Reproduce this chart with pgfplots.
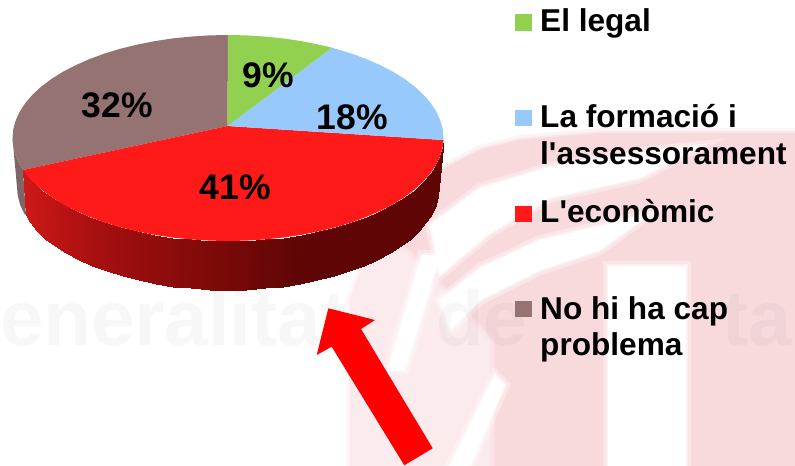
\documentclass[border=0pt]{standalone}
\usepackage{fontspec}
\setmainfont{Liberation Sans}
\newfontfamily\plainsans{Liberation Sans}
\usepackage{pgfplots}
\pgfplotsset{compat=1.18}
\definecolor{cgreen}{HTML}{92D050}
\definecolor{cblue}{HTML}{97C9FC}
\definecolor{cred}{HTML}{FF1A1A}
\definecolor{cbrown}{HTML}{957373}
\definecolor{csidebrown}{HTML}{7F6666}
\definecolor{cpink}{HTML}{F8DADD}
\definecolor{cpale}{HTML}{FBEBED}
\newcommand{\leg}{\plainsans\fontsize{31.6bp}{34bp}\selectfont\bfseries}
\newcommand{\pct}{\fontsize{35.5bp}{40bp}\selectfont\bfseries}
\tikzset{
  softwhite/.style={fill=white, draw=white, draw opacity=.45, line width=4pt,
    preaction={draw=white, draw opacity=.3, line width=10pt}},
  softpink/.style={fill=#1, draw=#1, draw opacity=.45, line width=4pt,
    preaction={draw=#1, draw opacity=.3, line width=10pt}},
}
\begin{document}
\begin{tikzpicture}
\begin{axis}[
  scale only axis, width=795bp, height=466bp,
  xmin=0, xmax=795, ymin=0, ymax=466, y dir=reverse,
  hide axis,
  colormap={sidered}{rgb255(0)=(205,24,24); rgb255(75)=(165,15,15); rgb255(175)=(130,10,10); rgb255(275)=(95,5,5)},
  point meta min=25, point meta max=300,
]
% page
\addplot[fill=white, draw=none] coordinates {(0,0)(795,0)(795,466)(0,466)} --cycle;
% faded logo behind the chart
\addplot[softpink=cpale] coordinates {(350,466)(350,300)(375,235)(410,190)(500,190)(500,466)} --cycle;
\addplot[softpink=cpink] coordinates {(445,168)(480,150)(520,140)(600,133)(795,133)(795,466)(495,466)(495,340)(440,280)(400,240)(410,195)} --cycle;
\addplot[softwhite] coordinates {(430,225)(480,188)(550,167)(640,152)(700,146)(640,178)(550,198)(490,233)(440,275)} --cycle;
\addplot[softwhite] coordinates {(440,300)(480,268)(540,240)(600,226)(650,214)(600,250)(540,270)(480,300)(450,330)} --cycle;
\addplot[softwhite] coordinates {(608,266)(686,266)(686,466)(608,466)} --cycle;
\addplot[softwhite] coordinates {(422,255)(440,255)(405,370)(388,370)} --cycle;
\addplot[softwhite] coordinates {(495,375)(505,385)(470,466)(450,466)} --cycle;
\node[anchor=base west, black, opacity=.03, inner sep=0pt, font=\bfseries\fontsize{78bp}{80bp}\selectfont] at (axis cs:0,345) {eneralitat};
\node[anchor=base west, black, opacity=.03, inner sep=0pt, font=\bfseries\fontsize{78bp}{80bp}\selectfont] at (axis cs:436,345) {de};
\node[anchor=base west, black, opacity=.03, inner sep=0pt, font=\bfseries\fontsize{78bp}{80bp}\selectfont] at (axis cs:722,345) {ta};

% side of the brown slice
\addplot[fill=csidebrown, draw=none] coordinates {(12.5,138)(13.3,147)(15.8,155.9)(19.9,164.7)(23,170)(26,215)(24.2,213.7)(20.2,204.9)(17.8,196)(17,187)} --cycle;
% side of the red slice, top edge then bottom edge
\addplot[surf, shader=interp, mesh/cols=34, mesh/rows=2, point meta=x] coordinates {
(23,170)(25.5,173.2)(32.7,181.5)(41.4,189.5)(51.5,197.1)(62.9,204.2)(75.6,210.8)(89.5,216.9)(104.4,222.4)(120.2,227.2)(136.9,231.3)(154.3,234.8)(172.2,237.5)(190.6,239.4)(209.2,240.6)(228,241)(246.8,240.6)(265.4,239.4)(283.8,237.5)(301.7,234.8)(319.1,231.3)(335.8,227.2)(351.6,222.4)(366.5,216.9)(380.4,210.8)(393.1,204.2)(404.5,197.1)(414.6,189.5)(423.3,181.5)(430.5,173.2)(436.1,164.7)(440.2,155.9)(442.7,147)(443.5,138)
(26,215)(29.7,222.2)(36.8,230.5)(45.3,238.5)(55.2,246.1)(66.4,253.2)(78.8,259.8)(92.4,265.9)(107,271.4)(122.5,276.2)(138.8,280.3)(155.8,283.8)(173.4,286.5)(191.4,288.4)(209.6,289.6)(228,290)(246.4,289.6)(264.6,288.4)(282.6,286.5)(300.2,283.8)(317.2,280.3)(333.5,276.2)(349,271.4)(363.6,265.9)(377.2,259.8)(389.6,253.2)(400.8,246.1)(410.7,238.5)(419.2,230.5)(426.3,222.2)(431.8,213.7)(435.8,204.9)(438.2,196)(439,187)
};

% top faces
\addplot[fill=cbrown, draw=none] coordinates {(227.5,126)(228,35)(209.2,35.4)(190.6,36.6)(172.2,38.5)(154.3,41.2)(136.9,44.7)(120.2,48.8)(104.4,53.6)(89.5,59.1)(75.6,65.2)(62.9,71.8)(51.5,78.9)(41.4,86.5)(32.7,94.5)(25.5,102.8)(19.9,111.3)(15.8,120.1)(13.3,129)(12.5,138)(13.3,147)(15.8,155.9)(19.9,164.7)(23,170)} --cycle;
\addplot[fill=cred, draw=none] coordinates {(227.5,126)(23,170)(25.5,173.2)(32.7,181.5)(41.4,189.5)(51.5,197.1)(62.9,204.2)(75.6,210.8)(89.5,216.9)(104.4,222.4)(120.2,227.2)(136.9,231.3)(154.3,234.8)(172.2,237.5)(190.6,239.4)(209.2,240.6)(228,241)(246.8,240.6)(265.4,239.4)(283.8,237.5)(301.7,234.8)(319.1,231.3)(335.8,227.2)(351.6,222.4)(366.5,216.9)(380.4,210.8)(393.1,204.2)(404.5,197.1)(414.6,189.5)(423.3,181.5)(430.5,173.2)(436.1,164.7)(440.2,155.9)(442.7,147)(443.4,140)} --cycle;
\addplot[fill=cblue, draw=none] coordinates {(227.5,126)(443.4,140)(443.5,138)(442.7,129)(440.2,120.1)(436.1,111.3)(430.5,102.8)(423.3,94.5)(414.6,86.5)(404.5,78.9)(393.1,71.8)(380.4,65.2)(366.5,59.1)(351.6,53.6)(332,47.7)} --cycle;
\addplot[fill=cgreen, draw=none] coordinates {(227.5,126)(332,47.7)(319.1,44.7)(301.7,41.2)(283.8,38.5)(265.4,36.6)(246.8,35.4)(228,35)} --cycle;

% legend squares
\addplot[fill=cgreen, draw=none] coordinates {(515,14.3)(531.5,14.3)(531.5,31)(515,31)} --cycle;
\addplot[fill=cblue, draw=none] coordinates {(515,110)(531.5,110)(531.5,126)(515,126)} --cycle;
\addplot[fill=cred, draw=none] coordinates {(515,205.7)(531.5,205.7)(531.5,221.7)(515,221.7)} --cycle;
\addplot[fill=cbrown, draw=none] coordinates {(515,300.7)(531.5,300.7)(531.5,316.7)(515,316.7)} --cycle;

% arrow
\addplot[fill=red, draw=none] coordinates {(328.3,308.3)(375,320)(361,329)(432.7,448.3)(404.3,465.3)(331.7,346.7)(316.7,355)} --cycle;

\node[anchor=base west, inner sep=0pt] at (axis cs:540,32) {\leg El legal};
\node[anchor=base west, inner sep=0pt] at (axis cs:540,127) {\leg La formació i};
\node[anchor=base west, inner sep=0pt] at (axis cs:540,164) {\leg l'assessorament};
\node[anchor=base west, inner sep=0pt] at (axis cs:540,222.7) {\leg L'econòmic};
\node[anchor=base west, inner sep=0pt] at (axis cs:540,319) {\leg No hi ha cap};
\node[anchor=base west, inner sep=0pt] at (axis cs:540,355) {\leg problema};

\node[anchor=base] at (axis cs:268.5,88) {\pct 9\%};
\node[anchor=base] at (axis cs:352.5,129) {\pct 18\%};
\node[anchor=base] at (axis cs:117.5,117) {\pct 32\%};
\node[anchor=base] at (axis cs:235.5,199) {\pct 41\%};
\end{axis}
\end{tikzpicture}
\end{document}
